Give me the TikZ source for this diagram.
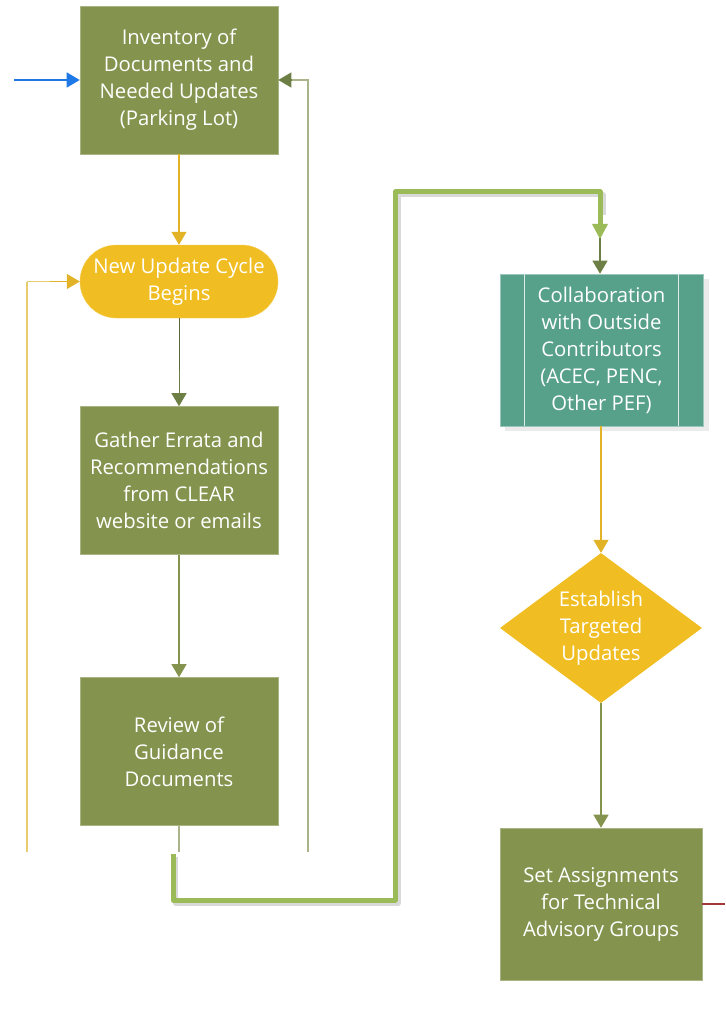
\documentclass[tikz,border=0pt]{standalone}
\usepackage{fontspec}
\setmainfont{Open Sans}
\usetikzlibrary{arrows.meta,shapes.geometric,shapes.misc,calc}
\definecolor{olive}{HTML}{84944F}
\definecolor{gold}{HTML}{F0BE22}
\definecolor{teal}{HTML}{57A18A}
\definecolor{lime}{HTML}{9BBB59}
\definecolor{goldline}{HTML}{E2B227}
\definecolor{paleolive}{HTML}{A9B48A}
\definecolor{darkolive}{HTML}{6E7F45}
\definecolor{arrowblue}{HTML}{1E78E6}
\definecolor{paleyellow}{HTML}{E8CC6E}
\definecolor{darkred}{HTML}{A33A3A}
\tikzset{
  txt/.style={text=white, font=\fontsize{20.3}{27}\selectfont, align=center, inner sep=0pt},
  greenbox/.style={txt, fill=olive, draw=olive!70!white, line width=0.6pt, minimum width=198pt, minimum height=148pt},
  stadium/.style={txt, fill=gold, draw=gold!80!white, rounded rectangle, minimum width=198pt, minimum height=73pt},
  tealbox/.style={txt, fill=teal, draw=teal!60!white, line width=0.6pt, minimum width=203pt, minimum height=152pt},
  dia/.style={txt, fill=gold, diamond, minimum width=202pt, minimum height=150pt, aspect=1.35},
  tip/.style={-{Triangle[length=13pt,width=15pt]}},
  conn/.style={line width=1.1pt},
}
\begin{document}
\begin{tikzpicture}[x=1pt,y=-1pt]
\useasboundingbox (0,0) rectangle (725,1016);
% nodes
\node[greenbox] (inv) at (179,80) {Inventory of\\Documents and\\Needed Updates\\(Parking Lot)};
\node[stadium] (nuc) at (179,281.5) {New Update Cycle\\Begins};
\node[greenbox] (gat) at (179,480.5) {Gather Errata and\\Recommendations\\from CLEAR\\website or emails};
\node[greenbox] (rev) at (179,751.5) {Review of\\Guidance\\Documents};
\fill[black!8] (505,279) rectangle (709,431);
\node[tealbox] (col) at (601.5,350) {Collaboration\\with Outside\\Contributors\\(ACEC, PENC,\\Other PEF)};
\draw[white!80!teal, line width=0.8pt] (524,274) -- (524,426) (678,274) -- (678,426);
\node[dia] (est) at (601,628) {Establish\\Targeted\\Updates};
\node[greenbox, minimum width=202pt, minimum height=152pt] (set) at (601,904) {Set Assignments\\for Technical\\Advisory Groups};
% free ends
\coordinate (bluestart) at (14,80);
\coordinate (yl) at (27,852);
\coordinate (ol) at (308,852);
\coordinate (revend) at (179,852);
\coordinate (thickstart) at (173,854);
\coordinate (thickend) at (600,238);
\coordinate (redend) at (725,904);
% connectors
\draw[conn, arrowblue, tip, line width=1.4pt] (bluestart) -- (inv.west);
\draw[conn, goldline, tip] (inv.south) -- (nuc.north);
\draw[conn, paleyellow, line width=1.6pt] (yl) -- (27,281.5);
\draw[conn, paleyellow, line width=1.6pt] (27,281.5) -- (53,281.5);
\draw[goldline, tip, line width=1.1pt] (50,281.5) -- (nuc.west);
\draw[conn, paleolive, line width=1.4pt] (ol) -- (308,80) -- (290,80);
\draw[darkolive, tip, line width=1.1pt] (292,80) -- (inv.east);
\draw[conn, darkolive!80!black, line width=1pt] (nuc.south) -- (179,380);
\draw[darkolive, tip, line width=1pt] (179,370) -- (gat.north);
\draw[conn, olive, tip] (gat.south) -- (rev.north);
\draw[conn, paleolive, line width=1.4pt] (rev.south) -- (revend);
% thick connector with shadow
\draw[black!15, line width=5pt, line join=round] ($(thickstart)+(2,3)$) -- (175,903) -- (398,903) -- (398,195) -- (603,195) -- (603,215);
\draw[lime, line width=5pt, line join=round] (thickstart) -- (173,900) -- (395,900) -- (395,192) -- (600,192) -- (600,226);
\fill[lime] (592,224) -- (608,224) -- (600,239) -- cycle;
\draw[darkolive, tip, line width=1.1pt] (thickend) -- (thickend |- col.north);
\draw[conn, goldline, tip] (col.south -| est.north) -- (est.north);
\draw[conn, olive, tip] (est.south) -- (set.north);
\draw[conn, darkred, line width=1.1pt] (set.east) -- (redend);
\end{tikzpicture}
\end{document}
